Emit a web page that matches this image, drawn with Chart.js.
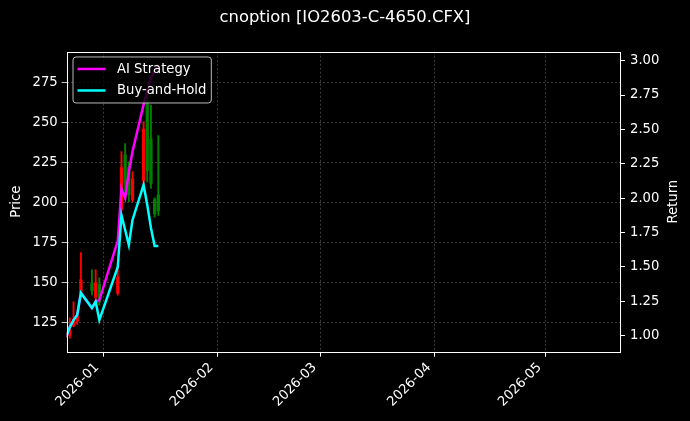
<!DOCTYPE html>
<html>
<head>
<meta charset="utf-8">
<script src="https://cdn.jsdelivr.net/npm/chart.js@4.4.1/dist/chart.umd.min.js"></script>
<style>
  html, body { margin: 0; padding: 0; background: #000; }
  #wrap { width: 690px; height: 421px; }
</style>
</head>
<body>
<div id="wrap"><canvas id="chart" width="690" height="421"></canvas></div>
<script>
// trading days shown in the chart
var dates = ['2025-12-22', '2025-12-23', '2025-12-24', '2025-12-25', '2025-12-26',
             '2025-12-29', '2025-12-30', '2025-12-31', '2026-01-05', '2026-01-06',
             '2026-01-07', '2026-01-08', '2026-01-09', '2026-01-12', '2026-01-13',
             '2026-01-14', '2026-01-15', '2026-01-16'];

// candles (left axis)
var openPrice  = [116, 117, 123, 126, 144, 150, 141, 149, 143.5, 196, 230, 222, 202, 214, 262, 240, 202, 205];
var highPrice  = [119, 128, 138, 130, 168.8, 158, 158, 153, 161, 232, 237, 225.6, 219.4, 250.6, 269.4, 261, 203, 242];
var lowPrice   = [115.5, 115.4, 122.5, 124, 143.6, 142.3, 137.3, 136, 142.3, 195, 207, 200.6, 200.6, 208, 213, 209, 191, 192];
var closePrice = [117, 121, 126, 129, 152, 145, 150, 138, 153.5, 222, 212, 205, 215, 246, 220, 212, 193, 195];

// returns (right axis)
var aiStrategy = [0.99, 1.063, 1.114, 1.151, 1.311, 1.202, 1.247, 1.259, 1.69, 2.07, 2.00, 2.19, 2.34, 2.68, 2.78, 2.87, 2.93, 2.97];
var buyHold    = [0.99, 1.063, 1.114, 1.151, 1.311, 1.202, 1.247, 1.114, 1.50, 1.878, 1.769, 1.66, 1.842, 2.096, 1.95, 1.783, 1.652, 1.652];

// axis ticks
var monthTicks  = ['2026-01-01', '2026-02-01', '2026-03-01', '2026-04-01', '2026-05-01'];
var monthLabels = ['2026-01', '2026-02', '2026-03', '2026-04', '2026-05'];
var priceTicks  = [125, 150, 175, 200, 225, 250, 275];
var returnTicks = [1.00, 1.25, 1.50, 1.75, 2.00, 2.25, 2.50, 2.75, 3.00];

var UP_COLOR = '#ff0000';
var DOWN_COLOR = '#008000';
var FONT = 'DejaVu Sans';
var FS = 13.2;

// days since 2026-01-01
function dayOf(s) {
    var p = s.split('-');
    return (Date.UTC(+p[0], +p[1] - 1, +p[2]) - Date.UTC(2026, 0, 1)) / 86400000;
}

var candleColors = dates.map(function (d, i) {
    return closePrice[i] >= openPrice[i] ? UP_COLOR : DOWN_COLOR;
});

var gridStyle = {
    color: 'rgba(255,255,255,0.3)',
    lineWidth: 0.8,
    offset: false,
    tickColor: '#ffffff',
    tickLength: 5,
    tickWidth: 1,
    tickBorderDash: [1, 0]
};

// black figure background
var blackBg = {
    id: 'blackBg',
    beforeDraw: function (chart) {
        var ctx = chart.ctx;
        ctx.save();
        ctx.fillStyle = '#000';
        ctx.fillRect(0, 0, chart.width, chart.height);
        ctx.restore();
    }
};

// white frame, right axis title and the legend inside the plot
var frameAndLegend = {
    id: 'frameAndLegend',
    afterDraw: function (chart) {
        var ctx = chart.ctx;
        var a = chart.chartArea;
        ctx.save();
        ctx.strokeStyle = '#ffffff';
        ctx.lineWidth = 1;
        ctx.strokeRect(Math.round(a.left) + 0.5, Math.round(a.top) + 0.5,
                       Math.round(a.right - a.left), Math.round(a.bottom - a.top));

        // right axis title, reading bottom to top like the left one
        var r = chart.scales.y1;
        ctx.fillStyle = '#ffffff';
        ctx.font = FS + 'px "' + FONT + '"';
        ctx.textAlign = 'center';
        ctx.textBaseline = 'middle';
        ctx.translate(r.right - 16.5, (a.top + a.bottom) / 2);
        ctx.rotate(-Math.PI / 2);
        ctx.fillText(r.options.title.text, 0, 0);
        ctx.setTransform(1, 0, 0, 1, 0, 0);
        ctx.restore();

        // legend
        var items = chart.data.datasets.filter(function (d) { return d.type === 'line'; });
        ctx.save();
        ctx.font = FS + 'px "' + FONT + '"';
        var x0 = a.left + 6.3, y0 = a.top + 5.3;
        var textX = x0 + 44;
        var maxW = 0;
        items.forEach(function (d) { maxW = Math.max(maxW, ctx.measureText(d.label).width); });
        var w = textX + maxW + 5 - x0, h = 46;
        ctx.beginPath();
        ctx.roundRect(x0, y0, w, h, 3);
        ctx.fillStyle = 'rgba(0,0,0,0.8)';
        ctx.fill();
        ctx.strokeStyle = 'rgba(204,204,204,0.9)';
        ctx.lineWidth = 1;
        ctx.stroke();
        items.forEach(function (d, i) {
            var yy = y0 + 12 + i * 21.5;
            ctx.beginPath();
            ctx.moveTo(x0 + 4.5, yy);
            ctx.lineTo(x0 + 32.5, yy);
            ctx.strokeStyle = d.borderColor;
            ctx.lineWidth = 2.5;
            ctx.stroke();
            ctx.fillStyle = '#ffffff';
            ctx.textAlign = 'left';
            ctx.textBaseline = 'middle';
            ctx.fillText(d.label, textX, yy + 0.5);
        });
        ctx.restore();
    }
};

new Chart(document.getElementById('chart'), {
    type: 'bar',
    data: {
        datasets: [
            {
                type: 'line',
                label: 'AI Strategy',
                yAxisID: 'y1',
                borderColor: '#ff00ff',
                backgroundColor: '#ff00ff',
                borderWidth: 2.5,
                pointRadius: 0,
                tension: 0,
                order: 1,
                data: dates.map(function (d, i) { return {x: dayOf(d), y: aiStrategy[i]}; })
            },
            {
                type: 'line',
                label: 'Buy-and-Hold',
                yAxisID: 'y1',
                borderColor: '#00ffff',
                backgroundColor: '#00ffff',
                borderWidth: 2.5,
                pointRadius: 0,
                tension: 0,
                order: 0,
                data: dates.map(function (d, i) { return {x: dayOf(d), y: buyHold[i]}; })
            },
            {
                type: 'bar',
                label: 'body',
                yAxisID: 'y',
                backgroundColor: candleColors,
                barThickness: 2.6,
                grouped: false,
                order: 2,
                data: dates.map(function (d, i) { return {x: dayOf(d), y: [openPrice[i], closePrice[i]]}; })
            },
            {
                type: 'bar',
                label: 'wick',
                yAxisID: 'y',
                backgroundColor: candleColors,
                barThickness: 1.2,
                grouped: false,
                order: 3,
                data: dates.map(function (d, i) { return {x: dayOf(d), y: [lowPrice[i], highPrice[i]]}; })
            }
        ]
    },
    options: {
        responsive: false,
        animation: false,
        layout: { padding: 0 },
        plugins: {
            legend: { display: false },
            tooltip: { enabled: false },
            title: {
                display: true,
                text: 'cnoption [IO2603-C-4650.CFX]',
                color: '#ffffff',
                font: { family: FONT, size: 16.4, weight: 'normal' },
                padding: { top: 8, bottom: 24 }
            }
        },
        scales: {
            x: {
                type: 'linear',
                min: -9.85,
                max: 140.2,
                offset: false,
                afterFit: function (s) { s.height = 69.3; },
                afterBuildTicks: function (s) {
                    s.ticks = monthTicks.map(function (d) { return {value: dayOf(d)}; });
                },
                ticks: {
                    color: '#ffffff',
                    font: { family: FONT, size: FS },
                    autoSkip: false,
                    minRotation: 45,
                    maxRotation: 45,
                    padding: 3,
                    labelOffset: -6,
                    callback: function (v, i) { return monthLabels[i]; }
                },
                grid: gridStyle,
                border: { display: false, dash: [2, 2] }
            },
            y: {
                position: 'left',
                min: 106.9,
                max: 294.4,
                afterFit: function (s) { s.width = 66.7; },
                afterBuildTicks: function (s) {
                    s.ticks = priceTicks.map(function (v) { return {value: v}; });
                },
                ticks: {
                    color: '#ffffff',
                    font: { family: FONT, size: FS },
                    padding: 4
                },
                title: {
                    display: true,
                    text: 'Price',
                    color: '#ffffff',
                    font: { family: FONT, size: FS },
                    padding: { top: 9 }
                },
                grid: gridStyle,
                border: { display: false, dash: [2, 2] }
            },
            y1: {
                position: 'right',
                min: 0.884,
                max: 3.065,
                afterFit: function (s) { s.width = 70; },
                afterBuildTicks: function (s) {
                    s.ticks = returnTicks.map(function (v) { return {value: v}; });
                },
                ticks: {
                    color: '#ffffff',
                    font: { family: FONT, size: FS },
                    padding: 5,
                    callback: function (v) { return Number(v).toFixed(2); }
                },
                title: { display: false, text: 'Return' },
                grid: Object.assign({}, gridStyle, { drawOnChartArea: false }),
                border: { display: false }
            }
        }
    },
    plugins: [blackBg, frameAndLegend]
});
</script>
</body>
</html>
